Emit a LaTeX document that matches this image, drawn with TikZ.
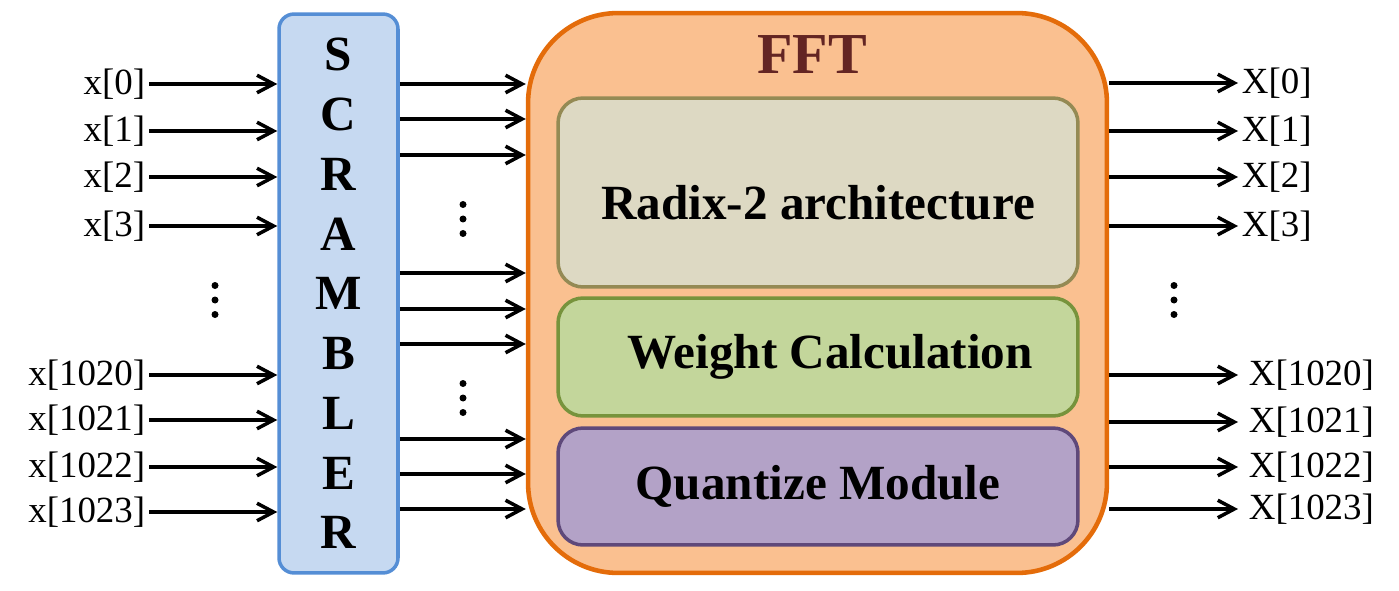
\documentclass[tikz,border=0pt]{standalone}
\usepackage{fontspec}
\setmainfont{Liberation Serif}
\usepackage{xcolor}
\usetikzlibrary{arrows.meta,positioning}

\definecolor{scrfill}{HTML}{C6D9F1}
\definecolor{scrline}{HTML}{558ED5}
\definecolor{fftfill}{HTML}{FAC090}
\definecolor{fftline}{HTML}{E46C0A}
\definecolor{fftred}{HTML}{632523}
\definecolor{radfill}{HTML}{DDD9C3}
\definecolor{radline}{HTML}{948A54}
\definecolor{wgtfill}{HTML}{C3D69B}
\definecolor{wgtline}{HTML}{77933C}
\definecolor{qntfill}{HTML}{B3A2C7}
\definecolor{qntline}{HTML}{5F497A}

\begin{document}
\begin{tikzpicture}[
  x=0.02cm, y=-0.02cm,
  sig/.style={inner sep=2pt,font=\fontsize{21}{25}\selectfont},
  box/.style={draw,rounded corners=5mm,line width=2pt,minimum width=104mm,font=\fontsize{28}{33}\selectfont\bfseries},
  arr/.style={-{Straight Barb[length=3.3mm,width=3.5mm]},line width=2pt}
]
  \useasboundingbox (0,0) rectangle (1399,591);

  % scrambler and fft blocks
  \node[draw=scrline,fill=scrfill,line width=2pt,rounded corners=3mm,minimum width=23.8mm,minimum height=111.8mm,
        align=center,font=\fontsize{28}{34}\selectfont\bfseries] (scr) at (338.5,293.5) {S\\C\\R\\A\\M\\B\\L\\E\\R};
  \node[draw=fftline,fill=fftfill,line width=2.6pt,rounded corners=18mm,minimum width=115.8mm,minimum height=112mm] (fft) at (817.5,293) {};
  \node[text=fftred,font=\fontsize{33}{38}\selectfont\bfseries] (ffttitle) at (812,55) {FFT};
  \node[box,draw=radline,fill=radfill,minimum height=37.8mm,text height=10.9mm] (radix) at (818,192.5) {Radix-2 architecture};
  \node[box,draw=wgtline,fill=wgtfill,minimum height=23.6mm] (weight) at (818,357) {\hspace*{4.8mm}Weight Calculation};
  \node[box,draw=qntline,fill=qntfill,minimum height=23.4mm] (quant) at (818,486.5) {Quantize Module};

  % inputs
  \node[sig,anchor=east] (in0) at (149,84) {x[0]};       \draw[arr] (in0) -- (scr.west |- in0);
  \node[sig,anchor=east] (in1) at (149,131) {x[1]};      \draw[arr] (in1) -- (scr.west |- in1);
  \node[sig,anchor=east] (in2) at (149,177) {x[2]};      \draw[arr] (in2) -- (scr.west |- in2);
  \node[sig,anchor=east] (in3) at (149,226) {x[3]};      \draw[arr] (in3) -- (scr.west |- in3);
  \node[sig,anchor=east] (in1020) at (149,375) {x[1020]}; \draw[arr] (in1020) -- (scr.west |- in1020);
  \node[sig,anchor=east] (in1021) at (149,420) {x[1021]}; \draw[arr] (in1021) -- (scr.west |- in1021);
  \node[sig,anchor=east] (in1022) at (149,467) {x[1022]}; \draw[arr] (in1022) -- (scr.west |- in1022);
  \node[sig,anchor=east] (in1023) at (149,512) {x[1023]}; \draw[arr] (in1023) -- (scr.west |- in1023);

  % scrambler to fft
  \draw[arr] (scr.east |- 0,84) -- (fft.west |- 0,84);
  \draw[arr] (scr.east |- 0,119) -- (fft.west |- 0,119);
  \draw[arr] (scr.east |- 0,155) -- (fft.west |- 0,155);
  \draw[arr] (scr.east |- 0,273) -- (fft.west |- 0,273);
  \draw[arr] (scr.east |- 0,309) -- (fft.west |- 0,309);
  \draw[arr] (scr.east |- 0,344) -- (fft.west |- 0,344);
  \draw[arr] (scr.east |- 0,439) -- (fft.west |- 0,439);
  \draw[arr] (scr.east |- 0,474) -- (fft.west |- 0,474);
  \draw[arr] (scr.east |- 0,509) -- (fft.west |- 0,509);

  % outputs
  \node[sig,anchor=west] (out0) at (1238,83) {X[0]};      \draw[arr] (fft.east |- out0) -- (out0);
  \node[sig,anchor=west] (out1) at (1238,131) {X[1]};     \draw[arr] (fft.east |- out1) -- (out1);
  \node[sig,anchor=west] (out2) at (1238,177) {X[2]};     \draw[arr] (fft.east |- out2) -- (out2);
  \node[sig,anchor=west] (out3) at (1238,226) {X[3]};     \draw[arr] (fft.east |- out3) -- (out3);
  \node[sig,anchor=west] (out1020) at (1245,375) {X[1020]}; \draw[arr] (fft.east |- out1020) -- (out0.west |- out1020);
  \node[sig,anchor=west] (out1021) at (1245,422) {X[1021]}; \draw[arr] (fft.east |- out1021) -- (out0.west |- out1021);
  \node[sig,anchor=west] (out1022) at (1245,467) {X[1022]}; \draw[arr] (fft.east |- out1022) -- (out0.west |- out1022);
  \node[sig,anchor=west] (out1023) at (1245,509) {X[1023]}; \draw[arr] (fft.east |- out1023) -- (out0.west |- out1023);

  % vertical dots
  \foreach \dx/\dy in {215/300,463/219,463/398,1174/300}
    \foreach \k in {-14.5,0,14.5}
      \fill (\dx,\dy+\k) circle (3.5);
\end{tikzpicture}
\end{document}
